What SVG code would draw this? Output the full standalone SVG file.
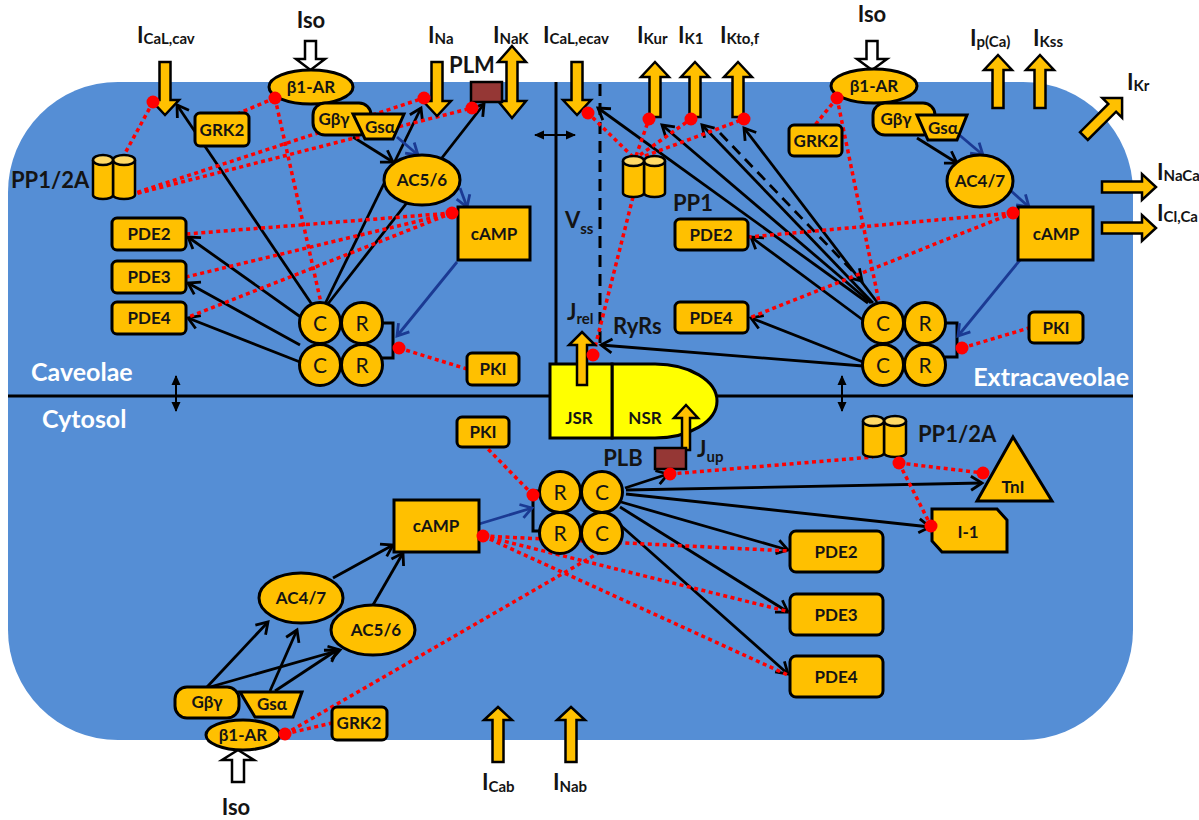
<svg xmlns="http://www.w3.org/2000/svg" width="1199" height="820" viewBox="0 0 1199 820">
<defs>
<style>
.n{font-family:Lato,"Open Sans","DejaVu Sans",sans-serif;font-weight:700;font-size:17px;fill:#141414;text-anchor:middle}
.cr{font-family:Lato,"Open Sans",sans-serif;font-weight:400;font-size:21px;fill:#141414;text-anchor:middle}
.lb{font-family:Lato,"Open Sans",sans-serif;font-weight:700;font-size:22px;fill:#141414}
.sb{font-size:15px}
.wt{font-family:Lato,"Open Sans",sans-serif;font-weight:700;font-size:25px;fill:#fff}
.y{fill:#FFC000;stroke:#000;stroke-width:3}
.ya{fill:#FFC000;stroke:#000;stroke-width:2.5}
.wa{fill:#fff;stroke:#000;stroke-width:2.5}
.br{fill:#953735;stroke:#000;stroke-width:2.5}
.cy{fill:#FFC000;stroke:#000;stroke-width:2.5}
.ct{fill:#FFD966;stroke:#000;stroke-width:2.5}
.k{stroke:#000;stroke-width:2.8;fill:none;marker-end:url(#ah)}
.kd{stroke:#000;stroke-width:2.8;fill:none;stroke-dasharray:11 7;marker-end:url(#ah)}
.b{stroke:#1B3A93;stroke-width:2.8;fill:none;marker-end:url(#ab)}
.r{stroke:#F00;stroke-width:3.5;fill:none;stroke-dasharray:4 3.5}
.dot{fill:#F00}
.ln{stroke:#000;stroke-width:3;fill:none}
.da{stroke:#000;stroke-width:2;fill:none;marker-start:url(#tri);marker-end:url(#tri)}
</style>
<marker id="ah" markerUnits="userSpaceOnUse" markerWidth="18" markerHeight="18" viewBox="0 0 18 18" refX="15" refY="9" orient="auto"><path d="M4,2 L15,9 L4,16" fill="none" stroke="#000" stroke-width="2.8"/></marker>
<marker id="ab" markerUnits="userSpaceOnUse" markerWidth="18" markerHeight="18" viewBox="0 0 18 18" refX="15" refY="9" orient="auto"><path d="M4,2 L15,9 L4,16" fill="none" stroke="#1B3A93" stroke-width="2.8"/></marker>
<marker id="tri" markerUnits="userSpaceOnUse" markerWidth="10" markerHeight="10" viewBox="0 0 10 10" refX="9" refY="5" orient="auto-start-reverse"><path d="M0,0.5 L10,5 L0,9.5 z" fill="#000"/></marker>
</defs>

<g id="cell">
<rect x="8" y="82" width="1125" height="658" rx="110" ry="110" fill="#558ED5"/>
<line class="ln" x1="8" y1="396" x2="1133" y2="396" stroke-width="3.5"/>
<line class="ln" x1="556" y1="82" x2="556" y2="364"/>
<line class="ln" x1="600" y1="84" x2="600" y2="350" stroke-dasharray="12 7"/>
<line class="da" x1="535" y1="135" x2="575" y2="135"/>
<line class="da" x1="176" y1="376" x2="176" y2="411"/>
<line class="da" x1="842" y1="376" x2="842" y2="411"/>
<text class="wt" x="31" y="381">Caveolae</text>
<text class="wt" x="42" y="428">Cytosol</text>
<text class="wt" x="1129" y="386" text-anchor="end">Extracaveolae</text>
<text class="lb" x="565" y="228" font-size="25">V<tspan class="sb" dy="6">ss</tspan></text>
</g>

<g id="connectors">
<path class="k" d="M313,306 L177,105"/>
<path class="k" d="M325,304 L421,108"/>
<path class="k" d="M327,305 L484,104"/>
<path class="k" d="M302,318 L188,237"/>
<path class="k" d="M300,345 L188,283"/>
<path class="k" d="M300,362 L188,318"/>
<path class="k" d="M353,137 L393,162"/>
<path class="k" d="M868,303 L598,108"/>
<path class="k" d="M871,303 L662,125"/>
<path class="k" d="M873,303 L702,125"/>
<path class="k" d="M877,302 L744,128"/>
<path class="kd" d="M720,133 L862,281"/>
<path class="k" d="M863,320 L751,237"/>
<path class="k" d="M863,362 L751,318"/>
<path class="k" d="M863,366 L601,345"/>
<path class="k" d="M917,138 L957,163"/>
<path class="k" d="M207,687 L268,622"/>
<path class="k" d="M210,687 L340,650"/>
<path class="k" d="M270,691 L297,630"/>
<path class="k" d="M275,691 L337,650"/>
<path class="k" d="M333,578 L393,545"/>
<path class="k" d="M373,605 L403,553"/>
<path class="k" d="M625,488 L668,474"/>
<path class="k" d="M626,490 L982,483"/>
<path class="k" d="M626,494 L930,527"/>
<path class="k" d="M621,502 L788,550"/>
<path class="k" d="M620,507 L788,612"/>
<path class="k" d="M619,524 L788,674"/>
<path class="ln" d="M382,323 H393 V358 H382"/>
<path class="ln" d="M945,323 H957 V357 H945"/>
<path class="ln" d="M541,491 H533 V531 H541"/>
<path class="b" d="M397,137 L418,155"/>
<path class="b" d="M460,188 L467,207"/>
<path class="b" d="M457,262 L397,336"/>
<path class="b" d="M957,133 L983,155"/>
<path class="b" d="M1010,190 L1029,207"/>
<path class="b" d="M1020,260 L958,336"/>
<path class="b" d="M479,524 L532,508"/>
<path class="r" d="M153,102 L123,157"/>
<path class="r" d="M123,197 L424,98"/>
<path class="r" d="M123,197 L472,108"/>
<path class="r" d="M275,98 L237,114"/>
<path class="r" d="M275,98 L321,303"/>
<path class="r" d="M452,213 L186,234"/>
<path class="r" d="M452,213 L186,277"/>
<path class="r" d="M452,213 L186,318"/>
<path class="r" d="M399,348 L467,369"/>
<path class="r" d="M633,157 L588,113"/>
<path class="r" d="M636,156 L649,119"/>
<path class="r" d="M640,155 L691,119"/>
<path class="r" d="M645,156 L744,119"/>
<path class="r" d="M633,197 L593,355"/>
<path class="r" d="M837,98 L815,125"/>
<path class="r" d="M837,98 L879,302"/>
<path class="r" d="M1013,213 L749,237"/>
<path class="r" d="M1013,213 L749,318"/>
<path class="r" d="M962,348 L1029,328"/>
<path class="r" d="M533,495 L486,447"/>
<path class="r" d="M483,536 L790,551"/>
<path class="r" d="M483,536 L790,612"/>
<path class="r" d="M483,536 L790,676"/>
<path class="r" d="M670,474 L873,457"/>
<path class="r" d="M899,463 L983,473"/>
<path class="r" d="M899,463 L931,526"/>
<path class="r" d="M285,734 L332,723"/>
<path class="r" d="M285,734 L600,552"/>
</g>

<g id="I_CaL_cav"><polygon class="ya" points="159.5,62 170.5,62 170.5,100 179,100 165,115 151,100 159.5,100"/><text class="lb" x="137" y="43">I<tspan class="sb" dy="1">CaL,cav</tspan></text></g>
<g id="I_Na"><polygon class="ya" points="431.5,62 442.5,62 442.5,101 451,101 437,116 423,101 431.5,101"/><text class="lb" x="428" y="43">I<tspan class="sb" dy="1">Na</tspan></text></g>
<g id="I_NaK"><polygon class="ya" points="512,46 526,62 517.5,62 517.5,101 526,101 512,118 498,101 506.5,101 506.5,62 498,62"/><text class="lb" x="493" y="43">I<tspan class="sb" dy="1">NaK</tspan></text></g>
<g id="I_CaL_ecav"><polygon class="ya" points="571.5,62 582.5,62 582.5,100 591,100 577,115 563,100 571.5,100"/><text class="lb" x="543" y="43">I<tspan class="sb" dy="1">CaL,ecav</tspan></text></g>
<g id="I_Kur"><polygon class="ya" points="655,62 669,77 660.5,77 660.5,117 649.5,117 649.5,77 641,77"/><text class="lb" x="637" y="43">I<tspan class="sb" dy="1">Kur</tspan></text></g>
<g id="I_K1"><polygon class="ya" points="695,62 709,77 700.5,77 700.5,117 689.5,117 689.5,77 681,77"/><text class="lb" x="678" y="43">I<tspan class="sb" dy="1">K1</tspan></text></g>
<g id="I_Kto_f"><polygon class="ya" points="738,62 752,77 743.5,77 743.5,117 732.5,117 732.5,77 724,77"/><text class="lb" x="720" y="43">I<tspan class="sb" dy="1">Kto,f</tspan></text></g>
<g id="I_pCa"><polygon class="ya" points="998,55 1012,70 1003.5,70 1003.5,108 992.5,108 992.5,70 984,70"/><text class="lb" x="970" y="46">I<tspan class="sb" dy="1">p(Ca)</tspan></text></g>
<g id="I_Kss"><polygon class="ya" points="1040,55 1054,70 1045.5,70 1045.5,108 1034.5,108 1034.5,70 1026,70"/><text class="lb" x="1033" y="46">I<tspan class="sb" dy="1">Kss</tspan></text></g>
<g id="I_Kr"><polygon class="ya" transform="translate(1103,117) rotate(45)" points="0,-27 14,-13 5.5,-13 5.5,27 -5.5,27 -5.5,-13 -14,-13"/><text class="lb" x="1127" y="90">I<tspan class="sb" dy="1">Kr</tspan></text></g>
<g id="I_NaCa"><polygon class="ya" points="1102,181.5 1142,181.5 1142,174 1156,187 1142,200 1142,192.5 1102,192.5"/><text class="lb" x="1157" y="180">I<tspan class="sb" dy="1" font-size="14">NaCa</tspan></text></g>
<g id="I_ClCa"><polygon class="ya" points="1102,222.5 1142,222.5 1142,215 1156,228 1142,241 1142,233.5 1102,233.5"/><text class="lb" x="1157" y="221">I<tspan class="sb" dy="1" font-size="14">Cl,Ca</tspan></text></g>
<g id="I_Cab"><polygon class="ya" points="498,707 512,720 503.5,720 503.5,762 492.5,762 492.5,720 484,720"/><text class="lb" x="482" y="790">I<tspan class="sb" dy="2">Cab</tspan></text></g>
<g id="I_Nab"><polygon class="ya" points="571,707 585,720 576.5,720 576.5,762 565.5,762 565.5,720 557,720"/><text class="lb" x="553" y="790">I<tspan class="sb" dy="2">Nab</tspan></text></g>

<g id="iso_cav"><polygon class="wa" points="305,41 316,41 316,59 325,59 310.5,70 296,59 305,59"/><text class="lb" x="311" y="28" text-anchor="middle" font-size="21">Iso</text></g>
<g id="b1ar_cav"><ellipse class="y" cx="311" cy="87" rx="42" ry="17"/><text class="n" x="311" y="93">β1-AR</text></g>
<g id="gby_cav"><rect class="y" x="313" y="103" width="58" height="32" rx="12"/><text class="n" x="334" y="125">Gβγ</text></g>
<g id="gsa_cav"><polygon class="y" points="353,114 404,114 393,139 365,139"/><text class="n" x="380" y="133" font-size="16">Gsα</text></g>
<g id="grk2_cav"><rect class="y" x="195" y="113" width="54" height="33" rx="5"/><text class="n" x="222" y="136" font-size="16">GRK2</text></g>
<g id="pp12a_cav">
<path class="cy" d="M113,160 V195 A11,4 0 0 0 135,195 V160"/><ellipse class="ct" cx="124" cy="160" rx="11" ry="5"/>
<path class="cy" d="M93,160 V195 A10,4 0 0 0 113,195 V160"/><ellipse class="ct" cx="103" cy="160" rx="10" ry="5"/>
<text class="lb" x="11" y="188" font-size="21">PP1/2A</text></g>
<g id="plm"><rect class="br" x="471" y="82" width="31" height="20"/><text class="lb" x="472" y="73" text-anchor="middle" font-size="21">PLM</text></g>
<g id="ac56_cav"><ellipse class="y" cx="422" cy="180" rx="38" ry="25"/><text class="n" x="422" y="186">AC5/6</text></g>
<g id="camp_cav"><rect class="y" x="458" y="207" width="72" height="53"/><text class="n" x="494" y="240" font-size="19">cAMP</text></g>
<g id="pde2_cav"><rect class="y" x="112" y="218" width="74" height="32" rx="5"/><text class="n" x="149" y="240" font-size="18">PDE2</text></g>
<g id="pde3_cav"><rect class="y" x="112" y="261" width="74" height="32" rx="5"/><text class="n" x="149" y="283" font-size="18">PDE3</text></g>
<g id="pde4_cav"><rect class="y" x="112" y="302" width="74" height="32" rx="5"/><text class="n" x="149" y="324" font-size="18">PDE4</text></g>
<g id="pka_cav">
<circle class="y" cx="320" cy="323" r="20.5"/><circle class="y" cx="362" cy="323" r="20.5"/>
<circle class="y" cx="320" cy="365" r="20.5"/><circle class="y" cx="362" cy="365" r="20.5"/>
<text class="cr" x="320" y="331">C</text><text class="cr" x="362" y="331">R</text>
<text class="cr" x="320" y="373">C</text><text class="cr" x="362" y="373">R</text></g>
<g id="pki_cav"><rect class="y" x="467" y="353" width="52" height="32" rx="5"/><text class="n" x="493" y="375">PKI</text></g>

<g id="iso_ecav"><polygon class="wa" points="866.5,41 877.5,41 877.5,59 887,59 872,70 857,59 866.5,59"/><text class="lb" x="872" y="22" text-anchor="middle" font-size="21">Iso</text></g>
<g id="b1ar_ecav"><ellipse class="y" cx="874" cy="86" rx="43" ry="17"/><text class="n" x="874" y="92">β1-AR</text></g>
<g id="gby_ecav"><rect class="y" x="873" y="103" width="62" height="32" rx="12"/><text class="n" x="896" y="125">Gβγ</text></g>
<g id="gsa_ecav"><polygon class="y" points="917,115 967,115 957,140 928,140"/><text class="n" x="943" y="134" font-size="16">Gsα</text></g>
<g id="grk2_ecav"><rect class="y" x="789" y="125" width="53" height="31" rx="5"/><text class="n" x="816" y="147" font-size="16">GRK2</text></g>
<g id="ac47_ecav"><ellipse class="y" cx="980" cy="181" rx="33" ry="26"/><text class="n" x="980" y="187" font-size="16">AC4/7</text></g>
<g id="camp_ecav"><rect class="y" x="1018" y="207" width="75" height="53"/><text class="n" x="1056" y="240" font-size="19">cAMP</text></g>
<g id="pp1_ecav">
<path class="cy" d="M644,161 V193 A10.5,4 0 0 0 665,193 V161"/><ellipse class="ct" cx="654.5" cy="161" rx="10.5" ry="5"/>
<path class="cy" d="M623,161 V193 A10.5,4 0 0 0 644,193 V161"/><ellipse class="ct" cx="633.5" cy="161" rx="10.5" ry="5"/>
<text class="lb" x="673" y="211" font-size="20">PP1</text></g>
<g id="pde2_ecav"><rect class="y" x="675" y="219" width="73" height="31" rx="5"/><text class="n" x="711" y="241" font-size="18">PDE2</text></g>
<g id="pde4_ecav"><rect class="y" x="675" y="302" width="73" height="31" rx="5"/><text class="n" x="711" y="324" font-size="18">PDE4</text></g>
<g id="pka_ecav">
<circle class="y" cx="883" cy="323" r="20.5"/><circle class="y" cx="925" cy="323" r="20.5"/>
<circle class="y" cx="883" cy="365" r="20.5"/><circle class="y" cx="925" cy="365" r="20.5"/>
<text class="cr" x="883" y="331">C</text><text class="cr" x="925" y="331">R</text>
<text class="cr" x="883" y="373">C</text><text class="cr" x="925" y="373">R</text></g>
<g id="pki_ecav"><rect class="y" x="1029" y="312" width="54" height="31" rx="5"/><text class="n" x="1056" y="334">PKI</text></g>

<g id="sr">
<path d="M612,364 H655 A62,37 0 0 1 655,438 H612 Z" fill="#FFFF00" stroke="#000" stroke-width="3"/>
<rect x="550" y="364" width="62" height="74" fill="#FFFF00" stroke="#000" stroke-width="3"/>
<text class="n" x="579" y="424" font-size="18">JSR</text>
<text class="n" x="645" y="424" font-size="18">NSR</text>
</g>
<g id="j_rel"><polygon class="ya" points="582,332 595,345 587,345 587,385 577,385 577,345 569,345"/><text class="lb" x="567" y="320">J<tspan class="sb" dy="4">rel</tspan></text></g>
<g id="ryrs"><text class="lb" x="613" y="334" font-size="18">RyRs</text></g>
<g id="j_up"><polygon class="ya" points="686,405 698,418 690,418 690,450 682,450 682,418 674,418"/><text class="lb" x="697" y="457">J<tspan class="sb" dy="5">up</tspan></text></g>

<g id="iso_cyt"><polygon class="wa" points="238,750 254,760 244,760 244,782 232,782 232,760 222,760"/><text class="lb" x="236" y="815" text-anchor="middle" font-size="21">Iso</text></g>
<g id="b1ar_cyt"><ellipse class="y" cx="243" cy="735" rx="37" ry="15"/><text class="n" x="243" y="741" font-size="16">β1-AR</text></g>
<g id="gby_cyt"><rect class="y" x="175" y="687" width="64" height="31" rx="12"/><text class="n" x="207" y="708" font-size="16">Gβγ</text></g>
<g id="gsa_cyt"><polygon class="y" points="240,692 302,692 293,717 255,717"/><text class="n" x="272" y="710" font-size="16">Gsα</text></g>
<g id="grk2_cyt"><rect class="y" x="332" y="707" width="55" height="33" rx="5"/><text class="n" x="359" y="729" font-size="16">GRK2</text></g>
<g id="ac47_cyt"><ellipse class="y" cx="301" cy="598" rx="42" ry="25"/><text class="n" x="301" y="604">AC4/7</text></g>
<g id="ac56_cyt"><ellipse class="y" cx="373" cy="630" rx="42" ry="25"/><text class="n" x="376" y="636">AC5/6</text></g>
<g id="camp_cyt"><rect class="y" x="394" y="500" width="85" height="52"/><text class="n" x="436" y="532" font-size="19">cAMP</text></g>
<g id="pki_cyt"><rect class="y" x="457" y="417" width="52" height="30" rx="5"/><text class="n" x="483" y="438">PKI</text></g>
<g id="pka_cyt">
<circle class="y" cx="560" cy="492" r="20.5"/><circle class="y" cx="602" cy="492" r="20.5"/>
<circle class="y" cx="560" cy="533" r="20.5"/><circle class="y" cx="602" cy="533" r="20.5"/>
<text class="cr" x="560" y="500">R</text><text class="cr" x="602" y="500">C</text>
<text class="cr" x="560" y="541">R</text><text class="cr" x="602" y="541">C</text></g>
<g id="plb"><rect class="br" x="655" y="448" width="31" height="21"/><text class="lb" x="623" y="466" text-anchor="middle" font-size="20">PLB</text></g>
<g id="pp12a_cyt">
<path class="cy" d="M884,421 V453 A11,4 0 0 0 906,453 V421"/><ellipse class="ct" cx="895" cy="421" rx="11" ry="5"/>
<path class="cy" d="M863,421 V453 A10.5,4 0 0 0 884,453 V421"/><ellipse class="ct" cx="873.5" cy="421" rx="10.5" ry="5"/>
<text class="lb" x="918" y="442" font-size="21">PP1/2A</text></g>
<g id="tni"><polygon class="y" points="1013,437 1052,501 977,501"/><text class="n" x="1013" y="493" font-size="20">TnI</text></g>
<g id="i1"><polygon class="y" points="932,509 997,509 1007,520 1007,552 942,552 932,541"/><text class="n" x="968" y="538" font-size="20">I-1</text></g>
<g id="pde2_cyt"><rect class="y" x="790" y="531" width="93" height="41" rx="6"/><text class="n" x="836" y="558" font-size="18">PDE2</text></g>
<g id="pde3_cyt"><rect class="y" x="790" y="594" width="93" height="41" rx="6"/><text class="n" x="836" y="621" font-size="18">PDE3</text></g>
<g id="pde4_cyt"><rect class="y" x="790" y="656" width="93" height="41" rx="6"/><text class="n" x="836" y="683" font-size="18">PDE4</text></g>

<g id="dots">
<circle class="dot" cx="153" cy="102" r="6.5"/><circle class="dot" cx="275" cy="98" r="6.5"/>
<circle class="dot" cx="424" cy="98" r="6.5"/><circle class="dot" cx="472" cy="108" r="6.5"/>
<circle class="dot" cx="452" cy="213" r="6.5"/><circle class="dot" cx="399" cy="348" r="6.5"/>
<circle class="dot" cx="588" cy="113" r="6.5"/><circle class="dot" cx="649" cy="119" r="6.5"/>
<circle class="dot" cx="691" cy="119" r="6.5"/><circle class="dot" cx="744" cy="119" r="6.5"/>
<circle class="dot" cx="837" cy="98" r="6.5"/><circle class="dot" cx="1013" cy="213" r="6.5"/>
<circle class="dot" cx="962" cy="348" r="6.5"/><circle class="dot" cx="593" cy="355" r="6.5"/>
<circle class="dot" cx="533" cy="495" r="6.5"/><circle class="dot" cx="483" cy="536" r="6.5"/>
<circle class="dot" cx="670" cy="474" r="6.5"/><circle class="dot" cx="899" cy="463" r="6.5"/>
<circle class="dot" cx="983" cy="473" r="6.5"/><circle class="dot" cx="931" cy="526" r="6.5"/>
<circle class="dot" cx="285" cy="734" r="6.5"/>
</g>
</svg>
